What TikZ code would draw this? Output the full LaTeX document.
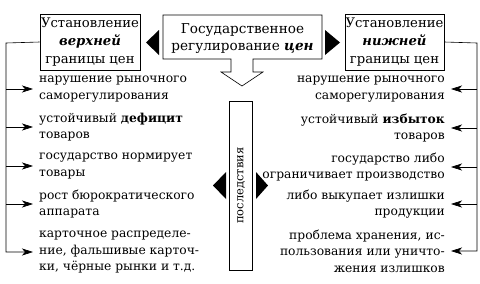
\documentclass[tikz,border=0pt]{standalone}
\usepackage{fontspec}
\setmainfont{DejaVu Serif}
\usetikzlibrary{arrows.meta}
\begin{document}
\begin{tikzpicture}[x=1pt,y=-1pt,
  every node/.style={font=\fontsize{12.3}{16.5}\selectfont},
  hbox/.style={draw, line width=0.6pt, minimum width=100pt, minimum height=56pt, inner sep=0pt, align=center, font=\fontsize{13.2}{18}\selectfont},
  litem/.style={inner sep=0pt, align=left, anchor=west},
  ritem/.style={inner sep=0pt, align=right, anchor=east},
  arr/.style={-{Stealth[length=11pt,width=7pt,inset=3pt]}, line width=0.6pt, shorten >=6pt},
  conn/.style={line width=0.6pt},
  tri/.style={fill=black, draw=none}]
\useasboundingbox (0,0) rectangle (480,284);

% top boxes
\node[hbox] (lbox) at (90,42) {Установление\\\textbf{\textit{верхней}}\\границы цен};
\node[hbox, minimum width=99pt] (rbox) at (394.5,42) {Установление\\\textbf{\textit{нижней}}\\границы цен};

% centre box with hollow arrow
\draw[conn] (163,15) -- (322,15) -- (322,59) -- (253,59) -- (253,72) -- (263,72)
  -- (242,86) -- (221,72) -- (231,72) -- (231,59) -- (163,59) -- cycle;
\node[align=center, inner sep=0pt, font=\fontsize{13.6}{17}\selectfont] (gov) at (242.5,38.5)
  {Государственное\\регулирование \textbf{\textit{цен}}};

% filled triangles beside the centre box
\fill[tri] (146,42.5) -- (159,30) -- (159,55) -- cycle;
\fill[tri] (340,42.5) -- (325,30) -- (325,55) -- cycle;

% consequences box
\node[draw, line width=0.6pt, rotate=90, minimum width=169pt, minimum height=23.5pt, inner sep=0pt,
  font=\fontsize{11.5}{14}\selectfont] (cons) at (241,185.5) {последствия};
\fill[tri] (213,185.5) -- (226,172) -- (226,199) -- cycle;
\fill[tri] (268,185.5) -- (256,172) -- (256,199) -- cycle;

% left items
\node[litem] (L1) at (39,89) {нарушение рыночного\\саморегулирования};
\node[litem] (L2) at (39,127) {устойчивый \textbf{дефицит}\\товаров};
\node[litem] (L3) at (39,166) {государство нормирует\\товары};
\node[litem] (L4) at (39,204) {рост бюрократического\\аппарата};
\node[litem] (L5) at (39,252) {карточное распределе-\\ние, фальшивые карточ-\\ки, чёрные рынки и т.д.};

% right items
\node[ritem] (R1) at (445,89) {нарушение рыночного\\саморегулирования};
\node[ritem] (R2) at (445,128) {устойчивый \textbf{избыток}\\товаров};
\node[ritem] (R3) at (445,167) {государство либо\\ограничивает производство};
\node[ritem] (R4) at (445,204) {либо выкупает излишки\\продукции};
\node[ritem] (R5) at (445,251) {проблема хранения, ис-\\пользования или уничто-\\жения излишков};

% left connectors
\coordinate (lc) at (6,43);
\draw[arr] (lbox.west) -- (lc) |- (L5.west);
\foreach \n in {L1,L2,L3,L4} \draw[arr] (lc |- \n.west) -- (\n.west);

% right connectors
\coordinate (rc) at (477,43);
\draw[arr] (rbox.east) -- (rc) |- (R5.east);
\foreach \n in {R1,R2,R3,R4} \draw[arr] (rc |- \n.east) -- (\n.east);
\end{tikzpicture}
\end{document}
